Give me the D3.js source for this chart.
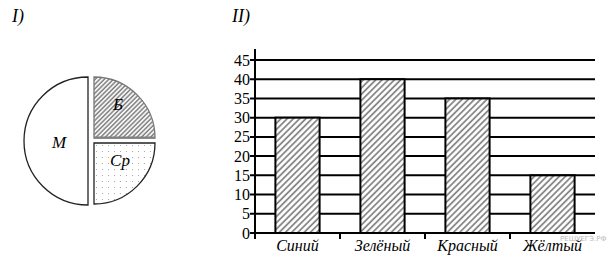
<!DOCTYPE html>
<html>
<head>
<meta charset="utf-8">
<script src="https://cdn.jsdelivr.net/npm/d3@7"></script>
<style>
  body { margin: 0; background: #fff; }
</style>
</head>
<body>
<div id="chart-area"></div>
<script>
// Data
var pieLabels = ['Б', 'Ср', 'М'];
var pieValues = [25, 25, 50];

var categories = ['Синий', 'Зелёный', 'Красный', 'Жёлтый'];
var values = [30, 40, 35, 15];
var yTicks = [0, 5, 10, 15, 20, 25, 30, 35, 40, 45];

var serif = '"Liberation Serif", "Times New Roman", "DejaVu Serif", serif';

var svg = d3.select('#chart-area')
    .append('svg')
        .attr('width', 607)
        .attr('height', 266)
        .attr('font-family', serif);

// Patterns
var defs = svg.append('defs');

var hatch = defs.append('pattern')
    .attr('id', 'hatch')
    .attr('patternUnits', 'userSpaceOnUse')
    .attr('width', 4.4)
    .attr('height', 4.4)
    .attr('patternTransform', 'rotate(45)');
hatch.append('rect').attr('width', 4.4).attr('height', 4.4).attr('fill', '#fff');
hatch.append('line')
    .attr('x1', 1).attr('y1', 0).attr('x2', 1).attr('y2', 4.4)
    .attr('stroke', '#808080').attr('stroke-width', 1.7);

var hatchDense = defs.append('pattern')
    .attr('id', 'hatchDense')
    .attr('patternUnits', 'userSpaceOnUse')
    .attr('width', 3.2)
    .attr('height', 3.2)
    .attr('patternTransform', 'rotate(45)');
hatchDense.append('rect').attr('width', 3.2).attr('height', 3.2).attr('fill', '#fff');
hatchDense.append('line')
    .attr('x1', 1).attr('y1', 0).attr('x2', 1).attr('y2', 3.2)
    .attr('stroke', '#7a7a7a').attr('stroke-width', 1.5);

var dots = defs.append('pattern')
    .attr('id', 'dots')
    .attr('patternUnits', 'userSpaceOnUse')
    .attr('width', 6)
    .attr('height', 6);
dots.append('rect').attr('width', 6).attr('height', 6).attr('fill', '#fff');
dots.append('rect').attr('x', 2).attr('y', 2).attr('width', 1).attr('height', 1).attr('fill', '#aaa');

// Titles
svg.append('text')
    .attr('x', 12).attr('y', 22)
    .attr('font-size', '18px').attr('font-style', 'italic')
    .text('I)');
svg.append('text')
    .attr('x', 232).attr('y', 22)
    .attr('font-size', '18px').attr('font-style', 'italic')
    .text('II)');

// Pie
var pie = d3.pie().sort(null).value(function(d){ return d; });
var arcs = pie(pieValues);
var fills = ['url(#hatchDense)', 'url(#dots)', '#fff'];
var strokes = ['#777', '#222', '#222'];
var offsets = [[94, 138], [94, 143], [88, 141]];
var radii = [61, 61, 64];
var labelPos = [[118, 110], [120, 166], [59, 148]];

var pg = svg.append('g');
arcs.forEach(function(a, i){
    var arc = d3.arc().innerRadius(0).outerRadius(radii[i]);
    pg.append('path')
        .attr('transform', 'translate(' + offsets[i][0] + ',' + offsets[i][1] + ')')
        .attr('d', arc(a))
        .attr('fill', fills[i])
        .attr('stroke', strokes[i])
        .attr('stroke-width', 1.3);
    pg.append('text')
        .attr('x', labelPos[i][0]).attr('y', labelPos[i][1])
        .attr('font-size', '17px').attr('font-style', 'italic')
        .attr('text-anchor', 'middle')
        .text(pieLabels[i]);
});
// thicker gray base of Б
pg.append('line')
    .attr('x1', 94).attr('x2', 155).attr('y1', 137.5).attr('y2', 137.5)
    .attr('stroke', '#808080').attr('stroke-width', 2);

// Bar chart
var plotLeft = 255, plotRight = 595, plotTop = 60, plotBottom = 233;

var x = d3.scaleBand()
    .domain(categories)
    .range([plotLeft, plotRight])
    .paddingInner(0.48)
    .paddingOuter(0.24);

var y = d3.scaleLinear()
    .domain([0, 45])
    .range([plotBottom, plotTop]);

var g = svg.append('g');

// Grid lines
g.selectAll('.grid')
    .data(yTicks)
    .enter().append('line')
        .attr('x1', plotLeft - 5)
        .attr('x2', plotRight)
        .attr('y1', function(d){ return y(d); })
        .attr('y2', function(d){ return y(d); })
        .attr('stroke', '#000')
        .attr('stroke-width', 2);

// Y labels
g.selectAll('.ylab')
    .data(yTicks)
    .enter().append('text')
        .attr('x', plotLeft - 5)
        .attr('y', function(d){ return y(d) + 5.5; })
        .attr('text-anchor', 'end')
        .attr('font-size', '16px')
        .text(function(d){ return d; });

// Y axis
g.append('line')
    .attr('x1', plotLeft).attr('x2', plotLeft)
    .attr('y1', 49).attr('y2', plotBottom + 6)
    .attr('stroke', '#000').attr('stroke-width', 2);

// Category separator ticks
var seps = categories.slice(1).map(function(c){ return x(c) - x.step() * x.paddingInner() / 2; });
g.selectAll('.sep')
    .data(seps)
    .enter().append('line')
        .attr('x1', function(d){ return d; })
        .attr('x2', function(d){ return d; })
        .attr('y1', plotBottom)
        .attr('y2', plotBottom + 6)
        .attr('stroke', '#000')
        .attr('stroke-width', 2);

// Bars
g.selectAll('rect.bar')
    .data(values)
    .enter().append('rect')
        .attr('class', 'bar')
        .attr('x', function(d, i){ return x(categories[i]); })
        .attr('y', function(d){ return y(d); })
        .attr('width', x.bandwidth())
        .attr('height', function(d){ return plotBottom - y(d); })
        .attr('fill', 'url(#hatch)')
        .attr('stroke', '#000')
        .attr('stroke-width', 2);

// Category labels
g.selectAll('.xlab')
    .data(categories)
    .enter().append('text')
        .attr('x', function(d){ return x(d) + x.bandwidth() / 2; })
        .attr('y', 251)
        .attr('text-anchor', 'middle')
        .attr('font-size', '16px')
        .attr('font-style', 'italic')
        .text(function(d){ return d; });

// Watermark
svg.append('text')
    .attr('x', 560).attr('y', 241)
    .attr('font-family', 'DejaVu Sans, sans-serif')
    .attr('font-size', '7px')
    .attr('fill', '#bbb')
    .text('РЕШУЕГЭ.РФ');
</script>
</body>
</html>
